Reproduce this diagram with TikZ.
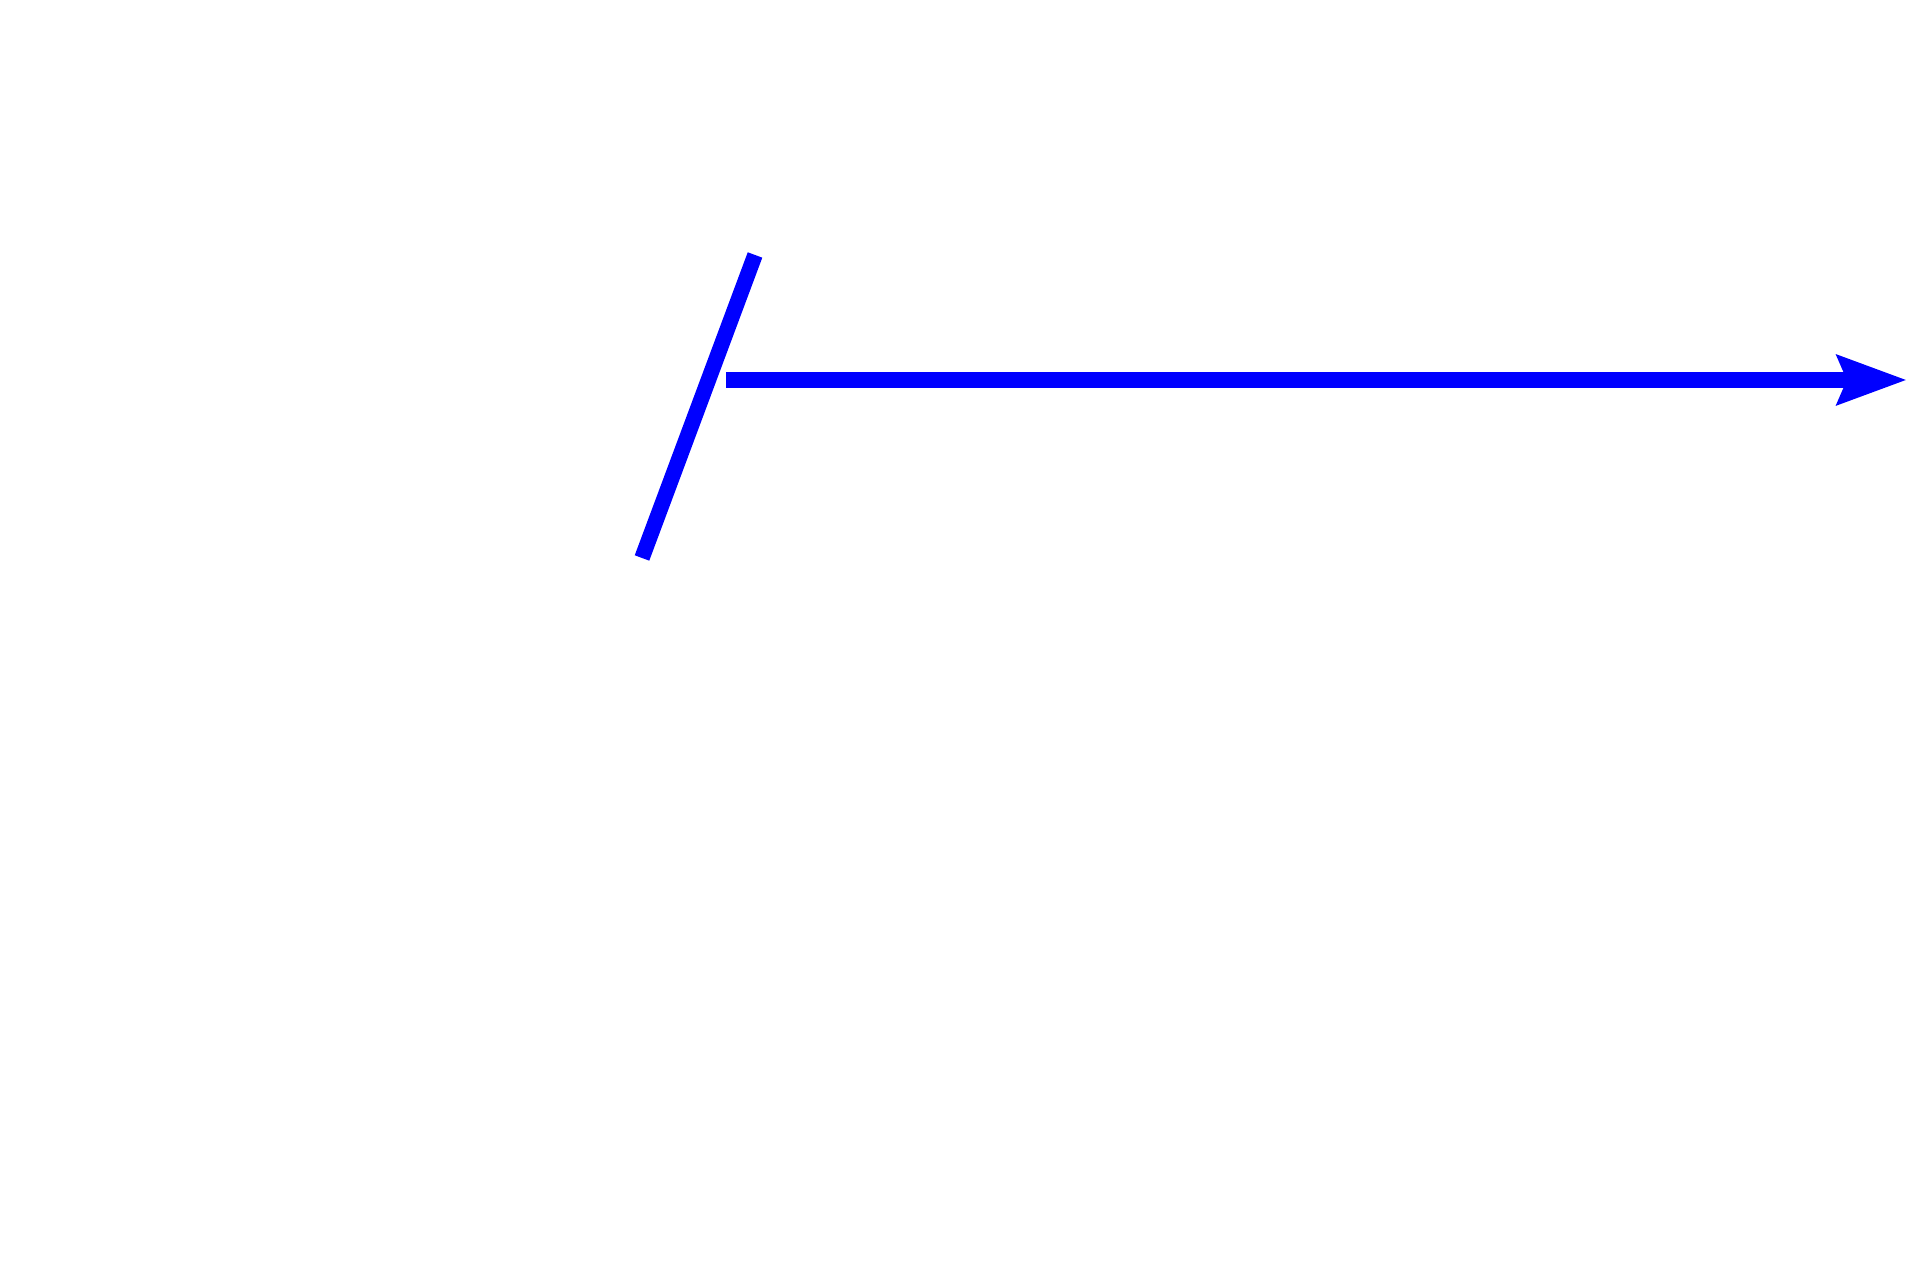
\documentclass[tikz,border=0pt]{standalone}
\usetikzlibrary{arrows.meta}
\begin{document}
\begin{tikzpicture}
		\useasboundingbox (0,0) rectangle (19.2,12.8);
		\coordinate (barTop) at (7.55,10.25);
		\coordinate (barBot) at (6.42,7.22);
		\coordinate (rayStart) at (7.26,9.0);
		\coordinate (rayEnd) at (19.07,9.0);
		\draw[color=blue, line width=0.155cm] (barBot) -- (barTop);
		\draw[-{Stealth[length=0.69cm, width=0.48cm, inset=0.09cm]}, color=blue, line width=0.155cm] (rayStart) -- (rayEnd);
	\end{tikzpicture}
\end{document}
